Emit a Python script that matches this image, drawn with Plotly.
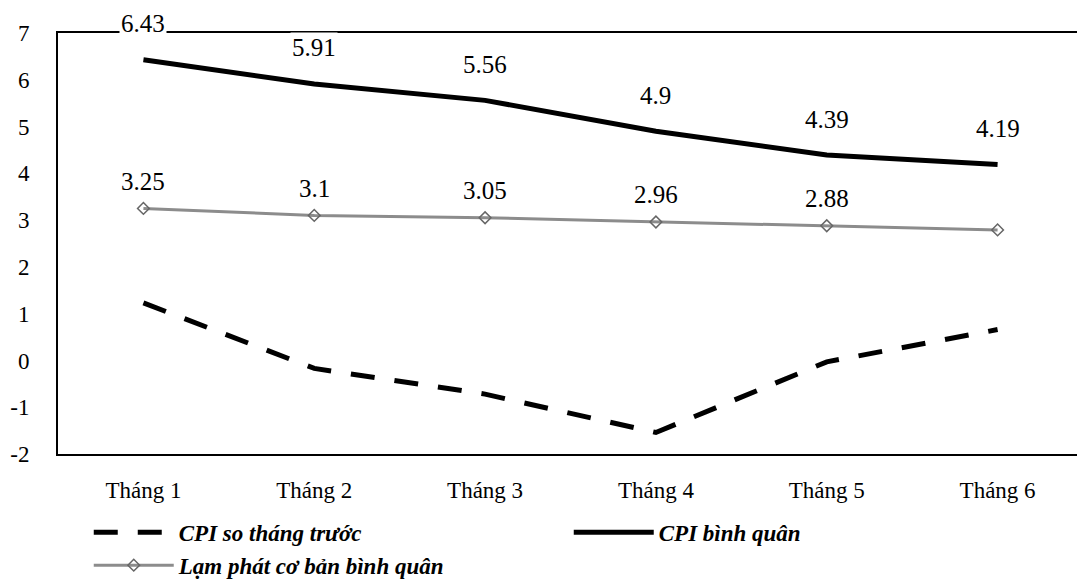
import plotly.graph_objects as go

months = ["Tháng 1", "Tháng 2", "Tháng 3", "Tháng 4", "Tháng 5", "Tháng 6"]
cpi_mom = [1.23, -0.17, -0.72, -1.54, -0.03, 0.66]
cpi_avg = [6.43, 5.91, 5.56, 4.90, 4.39, 4.19]
core_avg = [3.25, 3.10, 3.05, 2.96, 2.88, 2.79]
core_labels = ["3.25", "3.1", "3.05", "2.96", "2.88", ""]
cpi_avg_labels = ["6.43", "5.91", "5.56", "4.9", "4.39", "4.19"]
y_ticks = [-2, -1, 0, 1, 2, 3, 4, 5, 6, 7]
y_tick_labels = ["-2", "-1", "0", "1", "2", "3", "4", "5", "6", "7"]

SERIF = "Liberation Serif, Times New Roman, Times, serif"

fig = go.Figure()
fig.add_trace(go.Scatter(
    x=months, y=cpi_mom, mode="lines",
    name="<b><i>CPI so tháng trước</i></b>",
    line=dict(color="black", width=5, dash="24px,20px"),
))
fig.add_trace(go.Scatter(
    x=months, y=cpi_avg, mode="lines",
    name="<b><i>CPI bình quân</i></b>",
    line=dict(color="black", width=5),
))
fig.add_trace(go.Scatter(
    x=months, y=core_avg, mode="lines+markers",
    name="<b><i>Lạm phát cơ bản bình quân</i></b>",
    line=dict(color="#8c8c8c", width=3),
    marker=dict(symbol="diamond-open", size=9, color="#666666", line=dict(width=1.5)),
))

annotations = []
for m, v, t in zip(months, cpi_avg, cpi_avg_labels):
    annotations.append(dict(x=m, y=v, text=t, showarrow=False, yshift=36,
                            bgcolor="white", font=dict(family=SERIF, size=25, color="black")))
for m, v, t in zip(months, core_avg, core_labels):
    if t:
        annotations.append(dict(x=m, y=v, text=t, showarrow=False, yshift=27,
                                bgcolor="white", font=dict(family=SERIF, size=25, color="black")))

fig.update_layout(
    width=1077, height=573,
    margin=dict(l=50, r=2, t=25, b=127, autoexpand=False),
    paper_bgcolor="white", plot_bgcolor="white",
    font=dict(family=SERIF, size=22, color="black"),
    annotations=annotations,
    showlegend=True,
    legend=dict(orientation="h", x=0.03, y=-0.135, xanchor="left", yanchor="top",
                entrywidth=385, entrywidthmode="pixels",
                font=dict(family=SERIF, size=23, color="black"),
                tracegroupgap=0, itemwidth=80, bgcolor="rgba(0,0,0,0)"),
    xaxis=dict(range=[-0.5, 5.5], showgrid=False, zeroline=False, automargin=False,
               showline=True, linecolor="black", linewidth=2, mirror=True,
               ticks="", ticklabelstandoff=14,
               tickfont=dict(family=SERIF, size=23, color="black")),
    yaxis=dict(range=[-2, 7], tickvals=y_ticks, ticktext=y_tick_labels,
               showgrid=False, zeroline=False, automargin=False,
               showline=True, linecolor="black", linewidth=2, mirror=False,
               ticks="", ticklabelstandoff=22,
               tickfont=dict(family=SERIF, size=23, color="black")),
)

fig.write_html("out.html")
